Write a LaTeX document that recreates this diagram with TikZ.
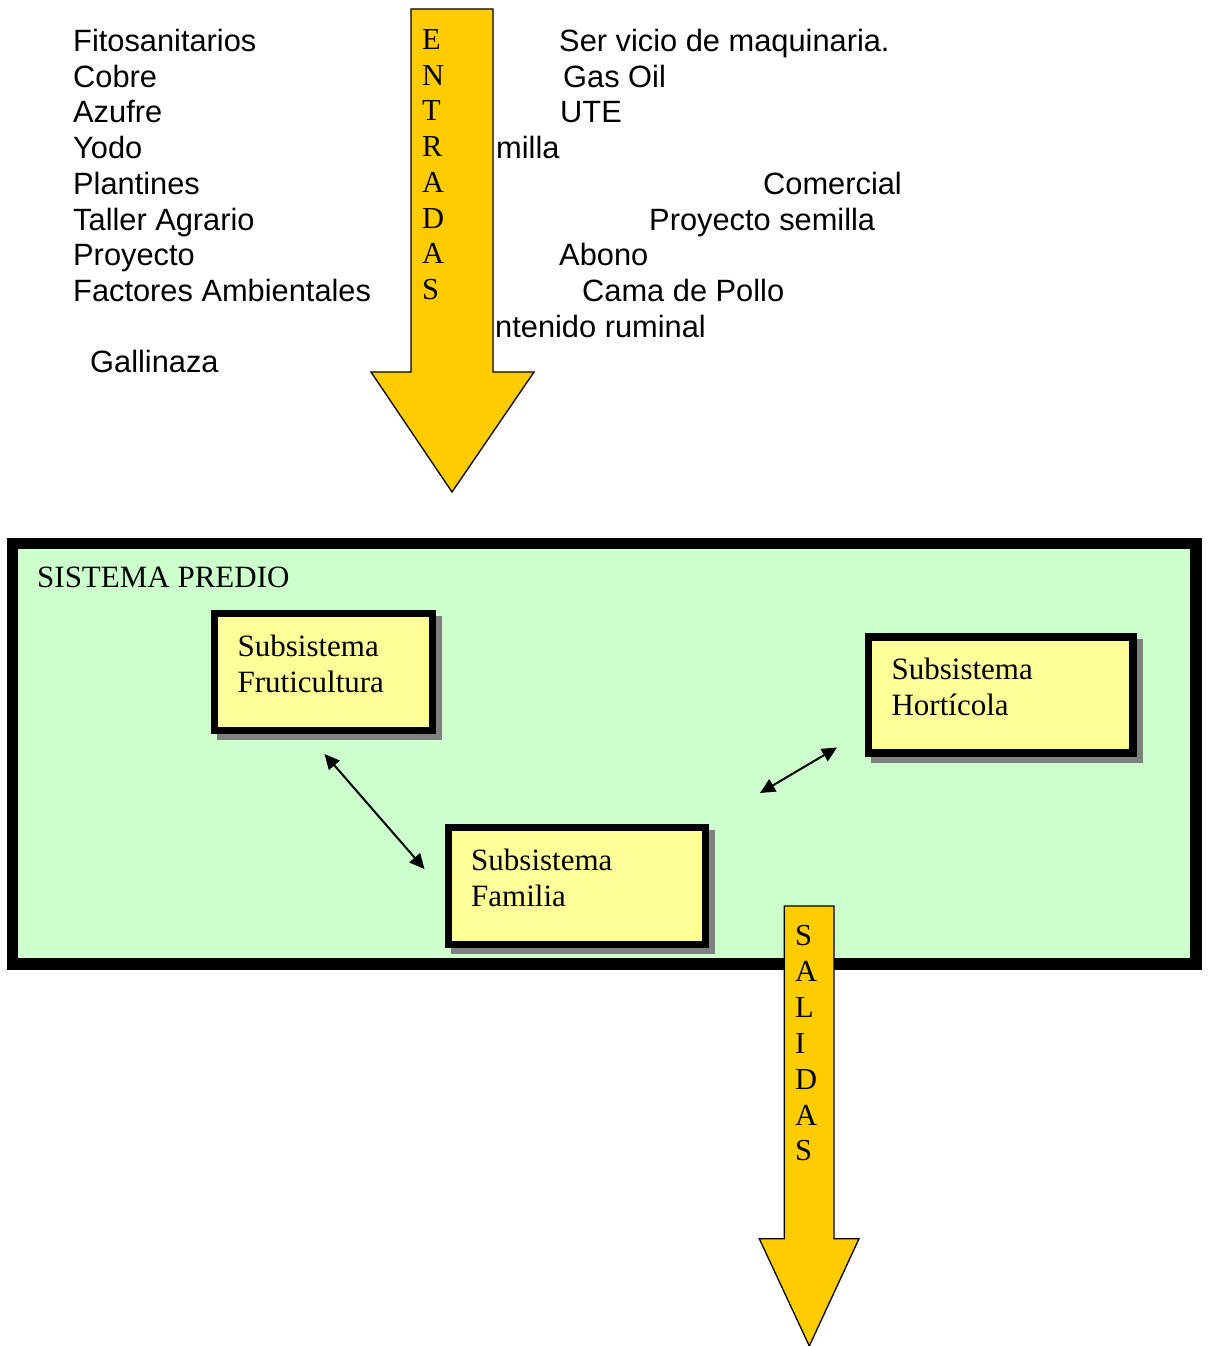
\documentclass[tikz,border=0pt]{standalone}
\usepackage{fontspec}
\setmainfont{Liberation Serif}
\newfontfamily\arialfont{Liberation Sans}
\usetikzlibrary{arrows.meta,shadows}
\definecolor{arrowfill}{HTML}{FFCC00}
\definecolor{prediofill}{HTML}{CCFFCC}
\definecolor{subfill}{HTML}{FFFF99}
\definecolor{shadowgray}{HTML}{808080}
\begin{document}
\begin{tikzpicture}[x=1pt,y=-1pt,
  side/.style={anchor=base west, inner sep=0pt, font=\arialfont\fontsize{30.8}{35.7}\selectfont},
  letter/.style={anchor=base west, inner sep=0pt, font=\fontsize{30.5}{35.7}\selectfont},
  bigarrow/.style={draw=black, line width=1.3pt, fill=arrowfill},
  sysbox/.style={draw=black, line width=11.6pt, fill=prediofill, inner sep=0pt, outer sep=0pt},
  subbox/.style={draw=black, line width=7.3pt, fill=subfill, inner sep=0pt, outer sep=0pt,
    drop shadow={shadow xshift=6pt, shadow yshift=-6pt, opacity=1, fill=shadowgray, draw=shadowgray, line width=7.3pt}},
  subtext/.style={anchor=north west, inner sep=0pt, align=left, font=\fontsize{31}{36.3}\selectfont},
  link/.style={{Triangle[length=15pt,width=14pt]}-{Triangle[length=15pt,width=14pt]}, line width=2pt}
]
\useasboundingbox (0,0) rectangle (1207,1346);

% left column of inputs
\node[side] (t1) at (73,51.5) {Fitosanitarios};
\node[side] (t2) at (73,87.2) {Cobre};
\node[side] (t3) at (73,122.9) {Azufre};
\node[side] (t4) at (73,158.6) {Yodo};
\node[side] (t5) at (73,194.3) {Plantines};
\node[side] (t6) at (73,230) {Taller Agrario};
\node[side] (t7) at (73,265.7) {Proyecto};
\node[side] (t8) at (73,301.4) {Factores Ambientales};
\node[side] (t9) at (90,372.8) {Gallinaza};

% right column of inputs
\node[side] (r1) at (559,51.5) {Ser vicio de maquinaria.};
\node[side] (r2) at (563,87.2) {Gas Oil};
\node[side] (r3) at (560,122.9) {UTE};
\node[side] (r4) at (496,158.6) {milla};
\node[side] (r5) at (763,194.3) {Comercial};
\node[side] (r6) at (649,230) {Proyecto semilla};
\node[side] (r7) at (559,265.7) {Abono};
\node[side] (r8) at (582,301.4) {Cama de Pollo};
\node[side] (r9) at (495,337.1) {ntenido ruminal};

% ENTRADAS arrow
\draw[bigarrow] (411,9) -- (493,9) -- (493,372) -- (534,372) -- (452,492) -- (371,372) -- (411,372) -- cycle;
\node[letter] (e1) at (422,49.5) {E};
\node[letter] (e2) at (422,85.2) {N};
\node[letter] (e3) at (422,120.9) {T};
\node[letter] (e4) at (422,156.6) {R};
\node[letter] (e5) at (422,192.3) {A};
\node[letter] (e6) at (422,228) {D};
\node[letter] (e7) at (422,263.7) {A};
\node[letter] (e8) at (422,299.4) {S};

% system box
\node[sysbox, minimum width=1183.5pt, minimum height=420.3pt] (sistema) at (604.25,753.65) {};
\node[anchor=base west, inner sep=0pt, font=\fontsize{31}{36}\selectfont] (sistlabel) at (37,587) {SISTEMA PREDIO};

% subsystems
\node[subbox, minimum width=218.1pt, minimum height=116.6pt] (fruti) at (323.75,672) {};
\node[subtext] (frutitext) at ([shift={(22.7,20.7)}]fruti.north west) {Subsistema\\Fruticultura};

\node[subbox, minimum width=257pt, minimum height=116.9pt] (fami) at (576.8,886.25) {};
\node[subtext] (famitext) at ([shift={(22.7,20.7)}]fami.north west) {Subsistema\\Familia};

\node[subbox, minimum width=264.3pt, minimum height=116pt] (horti) at (1000.85,695) {};
\node[subtext] (hortitext) at ([shift={(22.7,20.7)}]horti.north west) {Subsistema\\Hortícola};

% links
\coordinate (fruti-link) at (324.5,754);
\coordinate (fami-link-a) at (424.5,869);
\coordinate (fami-link-b) at (760,793);
\coordinate (horti-link) at (837,747.5);
\draw[link] (fruti-link) -- (fami-link-a);
\draw[link] (fami-link-b) -- (horti-link);

% SALIDAS arrow
\draw[bigarrow] (784.3,906) -- (834,906) -- (834,1238.7) -- (859,1238.7) -- (809.3,1346) -- (759.3,1238.7) -- (784.3,1238.7) -- cycle;
\node[letter] (s1) at (795,945.5) {S};
\node[letter] (s2) at (795,981.4) {A};
\node[letter] (s3) at (795,1017.3) {L};
\node[letter] (s4) at (795,1053.2) {I};
\node[letter] (s5) at (795,1089.1) {D};
\node[letter] (s6) at (795,1125) {A};
\node[letter] (s7) at (795,1160.9) {S};
\end{tikzpicture}
\end{document}
